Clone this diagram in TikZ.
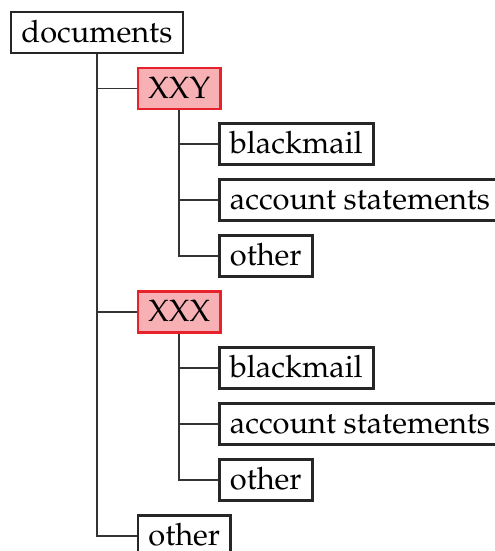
\documentclass[tikz,border=0pt]{standalone}
\usepackage[T1]{fontenc}
\usepackage{mathpazo}

\definecolor{markred}{RGB}{230,35,45}
\definecolor{markfill}{RGB}{247,176,180}

\tikzset{
  folder/.style={draw=black!85, line width=0.9pt, inner xsep=3.5pt, inner ysep=2pt,
    text height=8pt, text depth=1.6pt, anchor=west, font=\fontsize{10.2}{12}\selectfont},
  suspect/.style={folder, draw=markred, fill=markfill},
  branch/.style={draw=black!80, line width=0.55pt}
}

\begin{document}
\begin{tikzpicture}[x=0.3311pt, y=-0.3311pt]
  \useasboundingbox (0,0) rectangle (494,551);

  % Root
  \node[folder] (docs) at (9.5,32.5) {documents};

  % First person and its files
  \node[suspect] (xxy) at (136.5,88.5) {XXY};
  \node[folder] (xxyMail) at (218,144) {blackmail};
  \node[folder] (xxyAcc) at (218,200) {account statements};
  \node[folder] (xxyOther) at (218,256) {other};

  % Second person and its files
  \node[suspect] (xxx) at (136.5,312) {XXX};
  \node[folder] (xxxMail) at (218,368) {blackmail};
  \node[folder] (xxxAcc) at (218,424) {account statements};
  \node[folder] (xxxOther) at (218,480) {other};

  % Leftovers
  \node[folder] (rest) at (136.5,536) {other};

  % Branches
  \draw[branch] (docs.south) |- (xxy.west);
  \draw[branch] (docs.south) |- (xxx.west);
  \draw[branch] (docs.south) |- (rest.west);

  \draw[branch] (xxy.south) |- (xxyMail.west);
  \draw[branch] (xxy.south) |- (xxyAcc.west);
  \draw[branch] (xxy.south) |- (xxyOther.west);

  \draw[branch] (xxx.south) |- (xxxMail.west);
  \draw[branch] (xxx.south) |- (xxxAcc.west);
  \draw[branch] (xxx.south) |- (xxxOther.west);
\end{tikzpicture}
\end{document}
